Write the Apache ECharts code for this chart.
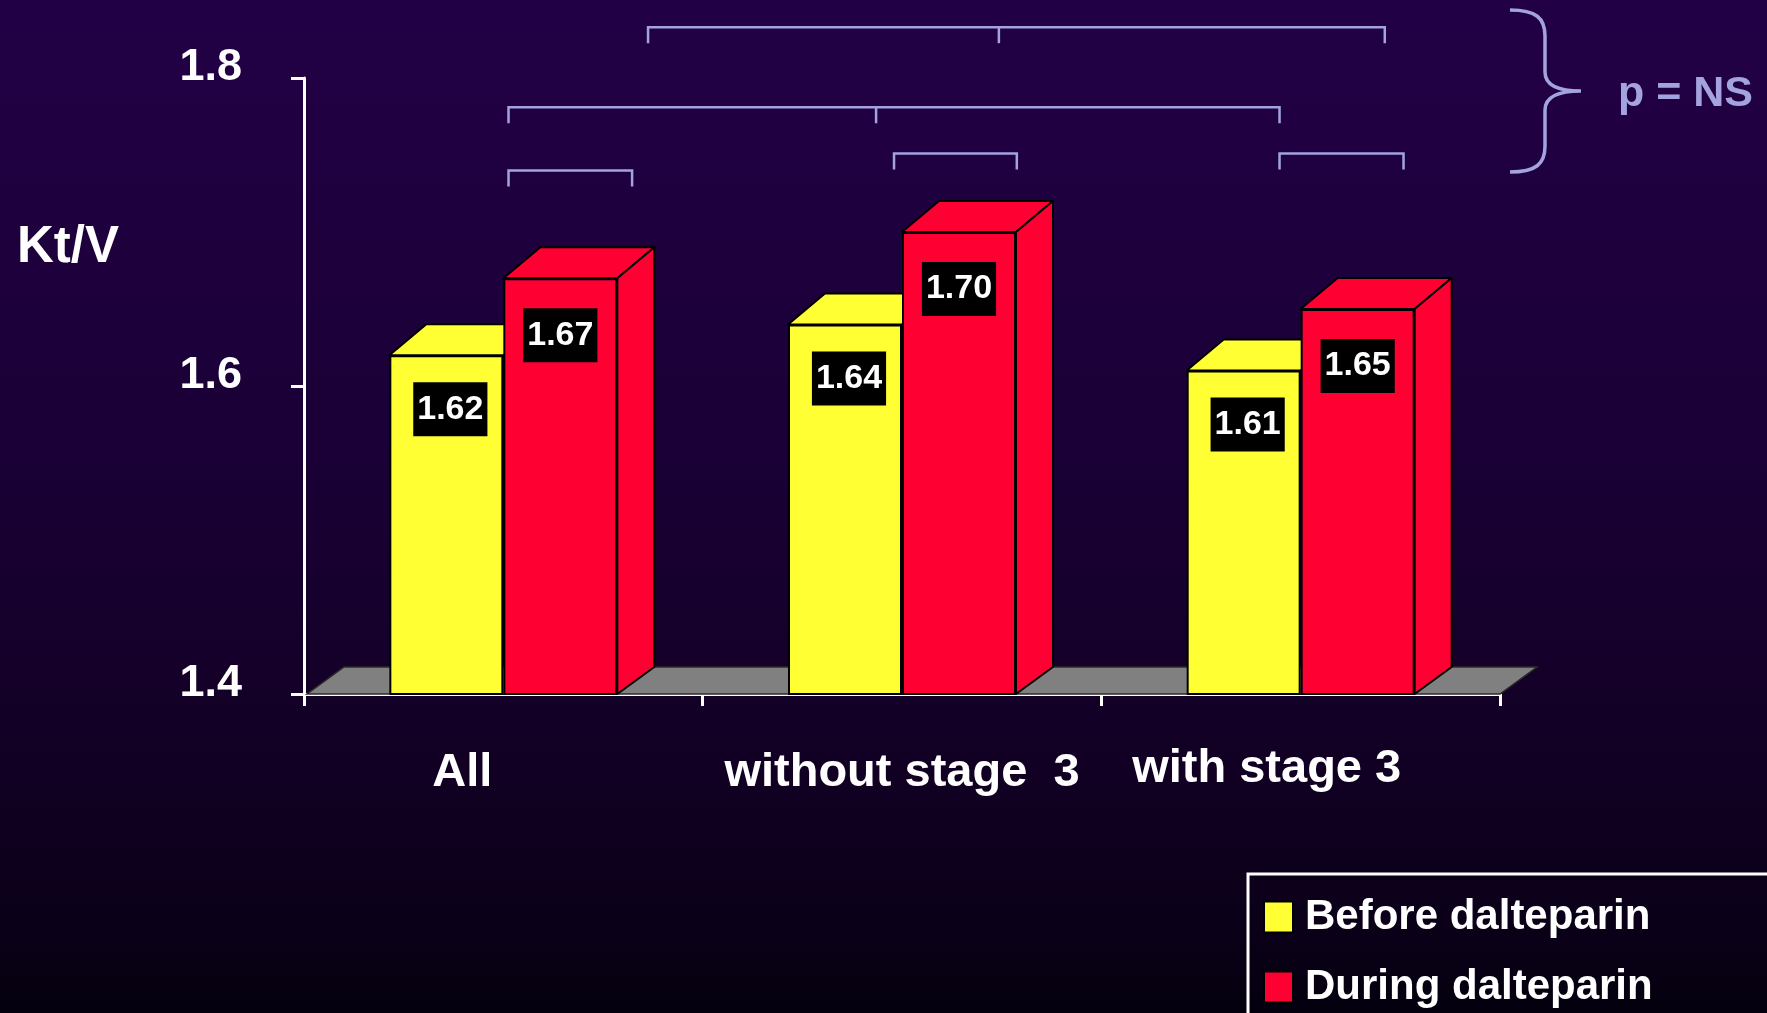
<!DOCTYPE html>
<html>
<head>
<meta charset="utf-8">
<title>Kt/V before and during dalteparin</title>
<script src="https://cdn.jsdelivr.net/npm/echarts@6/dist/echarts.min.js"></script>
<style>
  html, body { margin: 0; padding: 0; background: #12001f; }
  #chart { width: 1767px; height: 1013px; }
</style>
</head>
<body>
<div id="chart"></div>
<script>
// ---- data ----
const categories = ['All', 'without stage  3', 'with stage 3'];
const beforeValues = [1.62, 1.64, 1.61];
const duringValues = [1.67, 1.70, 1.65];
const seriesNames = ['Before dalteparin', 'During dalteparin'];
const yMin = 1.4, yMax = 1.8, yStep = 0.2;

// pairwise comparison brackets, x in category units (0 = centre of "All"),
// level in Kt/V units; mid = optional centre tick
const comparisons = [
  { from: 0.363, to: 2.211, mid: 1.243, level: 1.833 },
  { from: 0.013, to: 1.947, mid: 0.935, level: 1.781 },
  { from: 0.013, to: 0.323, mid: null,  level: 1.740 },
  { from: 0.980, to: 1.288, mid: null,  level: 1.751 },
  { from: 1.947, to: 2.258, mid: null,  level: 1.751 }
];

// ---- styling ----
const FONT = '"Liberation Sans", Arial, sans-serif';
const YELLOW = '#ffff33';
const RED = '#ff0033';
const LAVENDER = '#a3a3e0';
const BAR_W = 114;
const DEPTH_X = 37, DEPTH_TOP = 31, DEPTH_BOTTOM = 27;
const LEG = 16;

const chart = echarts.init(document.getElementById('chart'), null, { renderer: 'canvas' });

function poly(points, fill, z2) {
  return {
    type: 'polygon',
    shape: { points: points },
    style: { fill: fill, stroke: '#000', lineWidth: 2, lineJoin: 'round' },
    z2: z2 || 0
  };
}

// depth faces (top and side) of each bar pair
function renderFaces(params, api) {
  const i = params.dataIndex;
  const base = api.coord([i, yMin]);
  const cx = base[0], yBase = base[1];
  const yB = api.coord([i, beforeValues[i]])[1];
  const yD = api.coord([i, duringValues[i]])[1];
  const x0 = cx - BAR_W, x1 = cx + BAR_W;
  return {
    type: 'group',
    children: [
      poly([[x0, yB], [cx, yB], [cx + DEPTH_X, yB - DEPTH_TOP], [x0 + DEPTH_X, yB - DEPTH_TOP]], YELLOW, 1),
      poly([[cx, yD], [x1, yD], [x1 + DEPTH_X, yD - DEPTH_TOP], [cx + DEPTH_X, yD - DEPTH_TOP]], RED, 2),
      poly([[x1, yD], [x1 + DEPTH_X, yD - DEPTH_TOP], [x1 + DEPTH_X, yBase - DEPTH_BOTTOM], [x1, yBase]], RED, 2)
    ]
  };
}

// grey floor under the bars
function renderFloor(params, api) {
  const cs = params.coordSys;
  const yBase = cs.y + cs.height;
  const xl = cs.x + 3, xr = cs.x + cs.width;
  return {
    type: 'polygon',
    shape: { points: [[xl, yBase], [xr, yBase], [xr + DEPTH_X, yBase - DEPTH_BOTTOM], [xl + DEPTH_X, yBase - DEPTH_BOTTOM]] },
    style: { fill: '#808080', stroke: '#2a2a2a', lineWidth: 1.5 }
  };
}

// comparison brackets above the bars
function renderBracket(params, api) {
  const c = comparisons[params.dataIndex];
  const origin = api.coord([0, c.level]);
  const band = api.size([1, 0])[0];
  const xa = origin[0] + c.from * band;
  const xb = origin[0] + c.to * band;
  const y = origin[1];
  const pts = [[xa, y + LEG], [xa, y], [xb, y], [xb, y + LEG]];
  const children = [{
    type: 'polyline',
    shape: { points: pts },
    style: { stroke: LAVENDER, lineWidth: 2.5, fill: null }
  }];
  if (c.mid !== null) {
    const xm = origin[0] + c.mid * band;
    children.push({
      type: 'line',
      shape: { x1: xm, y1: y, x2: xm, y2: y + LEG },
      style: { stroke: LAVENDER, lineWidth: 2.5 }
    });
  }
  return { type: 'group', children: children };
}

// curly brace grouping all comparisons, with its caption
function renderBrace(params, api) {
  return {
    type: 'group',
    children: [
      {
        type: 'path',
        shape: {
          pathData: 'M1510,10 C1536,10 1545,18 1545,36 L1545,72 C1545,85 1558,91 1581,91 ' +
                    'C1558,91 1545,97 1545,110 L1545,146 C1545,164 1536,172 1510,172'
        },
        style: { stroke: LAVENDER, lineWidth: 3.5, fill: null }
      },
      {
        type: 'text',
        x: 1618, y: 94,
        style: {
          text: 'p = NS', fill: LAVENDER, font: 'bold 43px ' + FONT,
          textAlign: 'left', textVerticalAlign: 'middle'
        }
      }
    ]
  };
}

const option = {
  backgroundColor: {
    type: 'linear', x: 0, y: 0, x2: 0, y2: 1,
    colorStops: [
      { offset: 0, color: '#230046' },
      { offset: 0.45, color: '#1a0036' },
      { offset: 0.75, color: '#120024' },
      { offset: 0.93, color: '#0a0017' },
      { offset: 1, color: '#04000e' }
    ]
  },
  animation: false,
  textStyle: { fontFamily: FONT },
  grid: { left: 304, right: 267, top: 78, bottom: 319, containLabel: false },
  legend: {
    orient: 'vertical',
    left: 1248,
    top: 874,
    height: 120,
    padding: [22, 160, 40, 15],
    borderColor: '#ffffff',
    borderWidth: 3,
    itemWidth: 29,
    itemHeight: 31,
    itemGap: 28,
    icon: 'rect',
    data: seriesNames,
    selectedMode: false,
    textStyle: {
      color: '#ffffff', fontFamily: FONT, fontWeight: 'bold', fontSize: 42,
      lineHeight: 31, padding: [0, 0, 0, 7]
    }
  },
  xAxis: {
    type: 'category',
    data: [
      { value: categories[0], textStyle: { padding: [4, 82, 0, 0] } },
      { value: categories[1], textStyle: { padding: [4, 0, 0, 0] } },
      { value: categories[2], textStyle: { padding: [0, 68, 0, 0] } }
    ],
    boundaryGap: true,
    axisLine: { show: true, lineStyle: { color: '#ffffff', width: 3 } },
    axisTick: { show: true, length: 12, alignWithLabel: false, lineStyle: { color: '#ffffff', width: 3 } },
    axisLabel: {
      color: '#ffffff', fontFamily: FONT, fontWeight: 'bold', fontSize: 47,
      lineHeight: 47, margin: 52, verticalAlign: 'top', interval: 0
    },
    splitLine: { show: false }
  },
  yAxis: {
    type: 'value',
    min: yMin, max: yMax, interval: yStep,
    axisLine: { show: true, lineStyle: { color: '#ffffff', width: 3 } },
    axisTick: { show: true, length: 13, lineStyle: { color: '#ffffff', width: 3 } },
    axisLabel: {
      color: '#ffffff', fontFamily: FONT, fontWeight: 'bold', fontSize: 45,
      margin: 62, verticalAlign: 'bottom', lineHeight: 20,
      formatter: v => v.toFixed(1)
    },
    splitLine: { show: false }
  },
  graphic: [
    {
      type: 'text', left: 17, top: 222,
      style: { text: 'Kt/V', fill: '#ffffff', font: 'bold 51px ' + FONT }
    }
  ],
  series: [
    {
      type: 'custom', name: 'floor', silent: true, clip: false, z: 1,
      renderItem: renderFloor,
      data: [[0, yMin]]
    },
    {
      type: 'custom', name: 'depth', silent: true, clip: false, z: 2,
      renderItem: renderFaces,
      data: categories.map((c, i) => [i, duringValues[i]])
    },
    {
      type: 'bar', name: seriesNames[0], z: 3,
      barWidth: BAR_W, barGap: '0%',
      itemStyle: { color: YELLOW, borderColor: '#000', borderWidth: 2 },
      label: {
        show: true, position: 'insideTop', distance: 27, offset: [4, 0],
        formatter: p => p.value.toFixed(2),
        color: '#ffffff', fontFamily: FONT, fontWeight: 'bold', fontSize: 34,
        lineHeight: 36, backgroundColor: '#000000', padding: [9, 4, 9, 4]
      },
      data: beforeValues
    },
    {
      type: 'bar', name: seriesNames[1], z: 3,
      barWidth: BAR_W, barGap: '0%',
      itemStyle: { color: RED, borderColor: '#000', borderWidth: 2 },
      label: {
        show: true, position: 'insideTop', distance: 30,
        formatter: p => p.value.toFixed(2),
        color: '#ffffff', fontFamily: FONT, fontWeight: 'bold', fontSize: 34,
        lineHeight: 36, backgroundColor: '#000000', padding: [9, 4, 9, 4]
      },
      data: duringValues
    },
    {
      type: 'custom', name: 'comparisons', silent: true, clip: false, z: 4,
      renderItem: renderBracket,
      data: comparisons.map(() => [0, yMax])
    },
    {
      type: 'custom', name: 'brace', silent: true, clip: false, z: 4,
      renderItem: renderBrace,
      data: [[0, yMax]]
    }
  ]
};

chart.setOption(option);
</script>
</body>
</html>
